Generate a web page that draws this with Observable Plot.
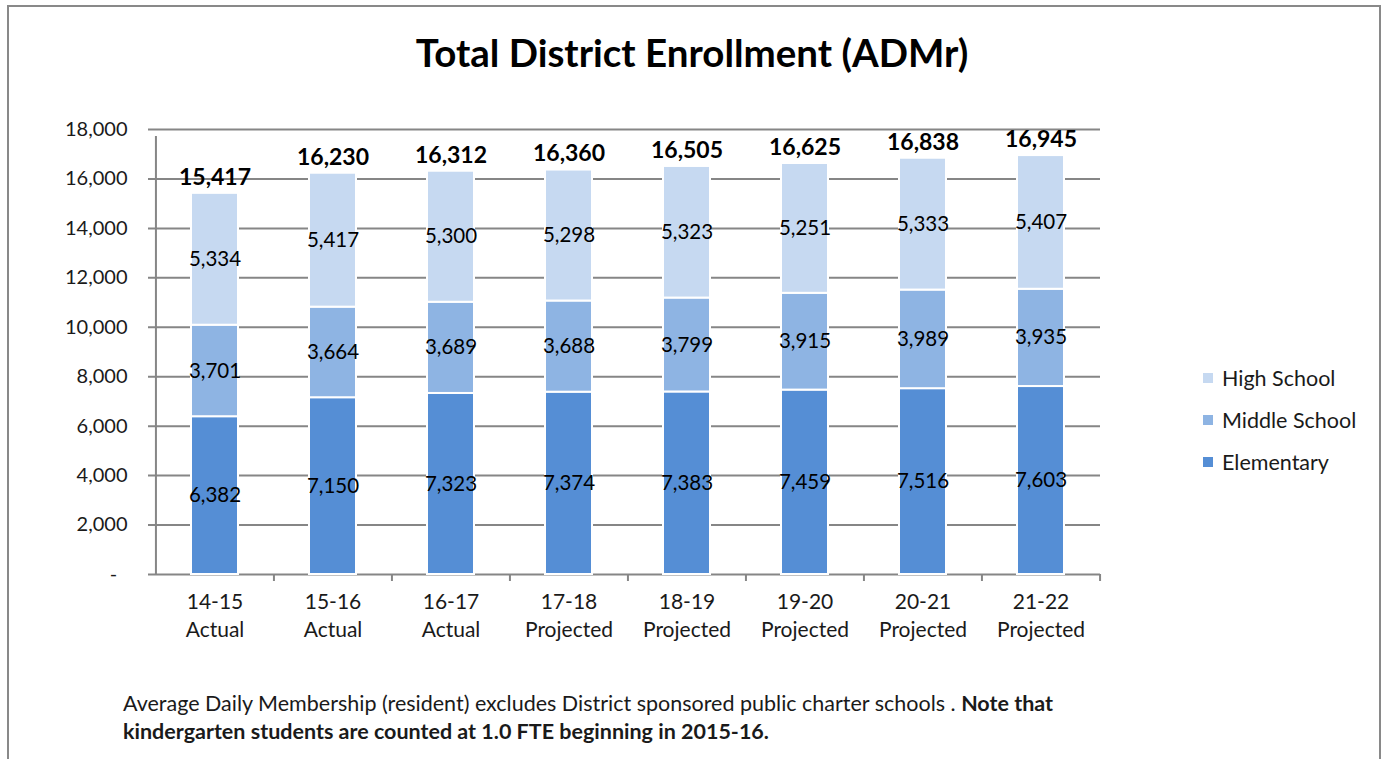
<!DOCTYPE html>
<html>
<head>
<meta charset="utf-8">
<script src="https://cdn.jsdelivr.net/npm/d3@7"></script>
<script src="https://cdn.jsdelivr.net/npm/@observablehq/plot@0.6"></script>
<style>
  body { margin: 0; background: #fff; font-family: Lato, "Open Sans", sans-serif; color: #1a1a1a; }
  #frame { position: absolute; left: 7px; top: 5px; width: 1374px; height: 820px; border: 2px solid #898989; box-sizing: border-box; }
  #wrap { position: absolute; left: 0; top: 0; width: 1384px; height: 759px; }
  #title { position: absolute; left: 0; top: 0; width: 1384px; height: 104px; line-height: 104px; text-align: center; font-size: 38.5px; font-weight: bold; color: #000; }
  #chart { position: absolute; left: 0; top: 104px; }
  #legend { position: absolute; left: 1203px; top: 357px; font-size: 21.5px; }
  #legend .row { height: 42px; line-height: 42px; display: flex; align-items: center; }
  #legend .sw { width: 10px; height: 10px; margin-right: 9px; }
  #caption { position: absolute; left: 123px; top: 689px; font-size: 21.5px; line-height: 28px; color: #1a1a1a; white-space: nowrap; }
</style>
</head>
<body>
<div id="frame"></div>
<div id="wrap">
  <div id="title">Total District Enrollment (ADMr)</div>
  <div id="chart"></div>
  <div id="legend"></div>
  <div id="caption">Average Daily Membership (resident) excludes District sponsored public charter schools . <b>Note that</b><br><b>kindergarten students are counted at 1.0 FTE beginning in 2015-16.</b></div>
</div>
<script>
// ---- data ----
const years = ["14-15", "15-16", "16-17", "17-18", "18-19", "19-20", "20-21", "21-22"];
const status = ["Actual", "Actual", "Actual", "Projected", "Projected", "Projected", "Projected", "Projected"];
const elementary = [6382, 7150, 7323, 7374, 7383, 7459, 7516, 7603];
const middle = [3701, 3664, 3689, 3688, 3799, 3915, 3989, 3935];
const high = [5334, 5417, 5300, 5298, 5323, 5251, 5333, 5407];
const totals = [15417, 16230, 16312, 16360, 16505, 16625, 16838, 16945];
const levels = ["Elementary", "Middle School", "High School"];
const colors = ["#558ED5", "#8EB4E3", "#C6D9F1"];
const yTicks = [0, 2000, 4000, 6000, 8000, 10000, 12000, 14000, 16000, 18000];

// ---- build table ----
const series = [elementary, middle, high];
const rows = years.flatMap((yr, i) => levels.map((lv, j) => ({year: yr, level: lv, value: series[j][i]})));
const fmt = d3.format(",");

const W = 1384, H = 556, mL = 155, mR = 284, mT = 25, mB = 86;
const step = (W - mL - mR) / years.length;
const grid = "#868686";

const chart = Plot.plot({
  width: W, height: H,
  marginLeft: mL, marginRight: mR, marginTop: mT, marginBottom: mB,
  style: {fontFamily: "Lato, 'Open Sans', sans-serif", fontSize: "20px", color: "#1a1a1a", background: "transparent", overflow: "visible"},
  x: {domain: years, paddingInner: 0.6, paddingOuter: 0.3, axis: null},
  y: {domain: [0, 18000], axis: null, label: null},
  color: {domain: levels, range: colors},
  marks: [
    Plot.ruleY(yTicks, {y: d => d, stroke: grid, strokeWidth: 2, insetLeft: -7}),
    Plot.ruleX([years[0]], {x: d => d, y1: 0, y2: 18000, dx: -step / 2, stroke: grid, strokeWidth: 2, insetBottom: -7}),
    Plot.ruleX(years.slice(1), {x: d => d, y1: 0, y2: 0, dx: -step / 2, stroke: grid, strokeWidth: 2, insetBottom: -7}),
    Plot.ruleX([years[years.length - 1]], {x: d => d, y1: 0, y2: 0, dx: step / 2, stroke: grid, strokeWidth: 2, insetBottom: -7}),
    Plot.barY(rows, Plot.stackY({x: "year", y: "value", fill: "level", order: levels, stroke: "white", strokeWidth: 2})),
    Plot.text(rows, Plot.stackY({x: "year", y: "value", z: "level", order: levels, text: d => fmt(d.value), fill: "#000", fontSize: 20.5})),
    Plot.text(years, {x: d => d, y: (d, i) => totals[i], text: (d, i) => fmt(totals[i]), dy: -16, fontWeight: "bold", fontSize: 23, fill: "#000"}),
    Plot.text(years, {x: d => d, text: d => d, frameAnchor: "bottom", dy: 34, fontSize: 21}),
    Plot.text(years, {x: d => d, text: (d, i) => status[i], frameAnchor: "bottom", dy: 62, fontSize: 21}),
    Plot.axisY({ticks: yTicks, tickSize: 0, tickPadding: 28, fontSize: 20, label: null, tickFormat: d => d === 0 ? "-\u00a0\u00a0" : fmt(d)})
  ]
});
document.getElementById("chart").appendChild(chart);

// legend
const legend = document.getElementById("legend");
[2, 1, 0].forEach(j => {
  const r = document.createElement("div");
  r.className = "row";
  r.innerHTML = `<span class="sw" style="background:${colors[j]}"></span><span>${levels[j]}</span>`;
  legend.appendChild(r);
});
</script>
</body>
</html>
